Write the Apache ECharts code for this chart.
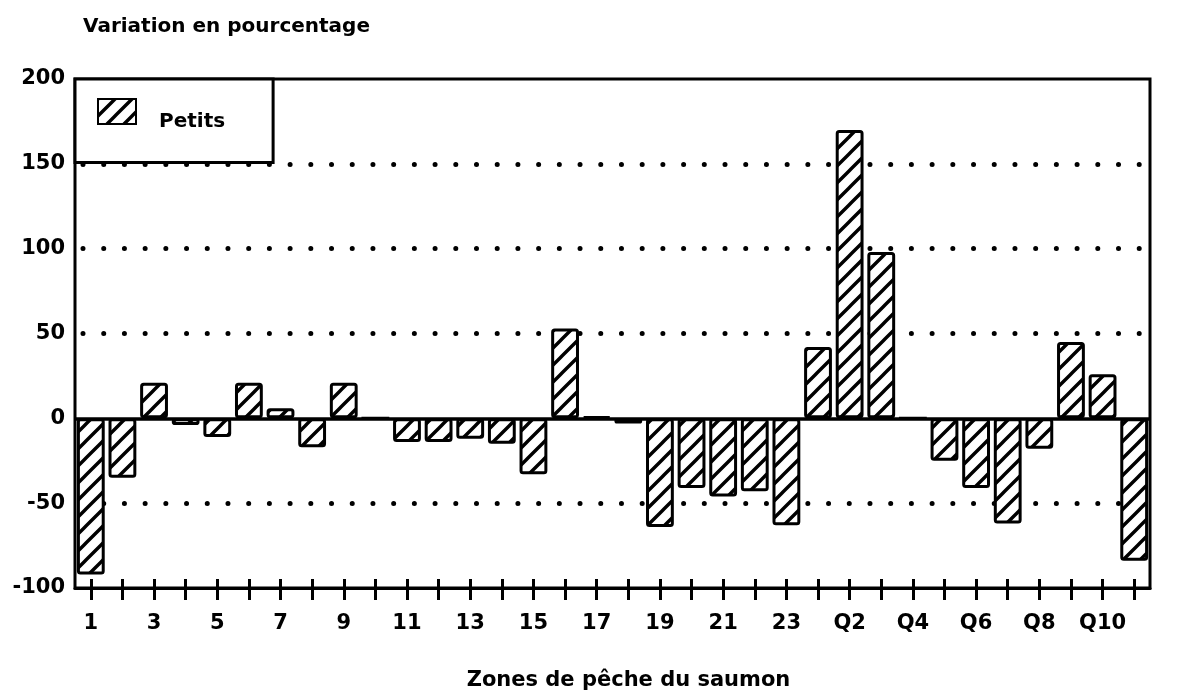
<!DOCTYPE html>
<html>
<head>
<meta charset="utf-8">
<script src="https://cdn.jsdelivr.net/npm/echarts@6/dist/echarts.min.js"></script>
<style>html,body{margin:0;padding:0;background:#fff;}#chart{width:1183px;height:694px;}</style>
</head>
<body>
<div id="chart"></div>
<script>
const categories = ['1','2','3','4','5','6','7','8','9','10','11','12','13','14','15','16','17','18','19','20','21','22','23',
  'Q1','Q2','Q3','Q4','Q5','Q6','Q7','Q8','Q9','Q10','Q11'];
const petits = [-92,-35,21,-4,-11,21,6,-17,21,0,-14,-14,-12,-15,-33,53,1,-3,-64,-41,-46,-43,-63,
  42,170,98,0,-25,-41,-62,-18,45,26,-84];
const yTicks = { min: -100, max: 200, interval: 50 };
const dottedLevels = [150, 100, 50, -50];
const seriesName = 'Petits';
const titleText = 'Variation en pourcentage';
const xName = 'Zones de pêche du saumon';

function hatch() {
  const s = 17;
  const c = document.createElement('canvas');
  c.width = s; c.height = s;
  const g = c.getContext('2d');
  g.fillStyle = '#fff'; g.fillRect(0, 0, s, s);
  g.strokeStyle = '#000'; g.lineWidth = 3.4;
  g.beginPath();
  g.moveTo(-s, 2 * s); g.lineTo(2 * s, -s);
  g.moveTo(-s, s); g.lineTo(s, -s);
  g.moveTo(0, 2 * s); g.lineTo(2 * s, 0);
  g.stroke();
  return { image: c, repeat: 'repeat' };
}

const FONT = 'DejaVu Sans';
const dotStyle = { color: '#000', width: 5, type: [0.01, 20.7], cap: 'round', dashOffset: -8 };
const markData = dottedLevels.map(v => ({ yAxis: v, lineStyle: dotStyle }))
  .concat([{ yAxis: 0, lineStyle: { color: '#000', width: 3.5, type: 'solid' } }]);

const chart = echarts.init(document.getElementById('chart'));
chart.setOption({
  backgroundColor: '#fff',
  animation: false,
  title: {
    text: titleText, left: 78, top: 12,
    textStyle: { fontFamily: FONT, fontWeight: 'bold', fontSize: 20, color: '#000' }
  },
  legend: {
    left: 75, top: 79,
    padding: [19, 48, 31, 22],
    backgroundColor: '#fff',
    borderColor: '#000', borderWidth: 3,
    itemWidth: 38, itemHeight: 25,
    icon: 'rect',
    formatter: '{a|{name}}',
    textStyle: {
      fontFamily: FONT, fontWeight: 'bold', fontSize: 20, color: '#000', padding: [0, 0, 0, 18],
      rich: { a: { fontFamily: FONT, fontWeight: 'bold', fontSize: 20, color: '#000', padding: [20, 0, 0, 0] } }
    },
    data: [seriesName]
  },
  grid: {
    left: 75, right: 33, top: 79, bottom: 106,
    outerBoundsMode: 'none', containLabel: false,
    show: true, borderColor: '#000', borderWidth: 3, backgroundColor: 'transparent'
  },
  xAxis: [{
    type: 'category', data: categories, position: 'bottom',
    name: xName, nameLocation: 'middle', nameGap: 82,
    nameTextStyle: { fontFamily: FONT, fontWeight: 'bold', fontSize: 21, color: '#000', padding: [0, 0, 0, 32] },
    axisLine: { show: true, onZero: false, lineStyle: { color: '#000', width: 3 } },
    axisTick: { show: true, alignWithLabel: true, interval: 0, length: 12, lineStyle: { color: '#000', width: 3 } },
    axisLabel: { interval: 1, margin: 25, fontFamily: FONT, fontWeight: 'bold', fontSize: 21, color: '#000' },
    splitLine: { show: false }
  }, {
    type: 'category', data: categories, position: 'bottom',
    axisLine: { show: false, onZero: false },
    axisTick: { show: true, inside: true, alignWithLabel: true, interval: 0, length: 9, lineStyle: { color: '#000', width: 3 } },
    axisLabel: { show: false },
    splitLine: { show: false }
  }],
  yAxis: {
    type: 'value', min: yTicks.min, max: yTicks.max, interval: yTicks.interval,
    axisLine: { show: false }, axisTick: { show: false },
    axisLabel: { margin: 10, fontFamily: FONT, fontWeight: 'bold', fontSize: 21, color: '#000' },
    splitLine: { show: false }
  },
  series: [{
    name: seriesName, type: 'bar', xAxisIndex: 0, data: petits, z: 3,
    barWidth: '88%',
    itemStyle: { color: hatch(), borderColor: '#000', borderWidth: 3, borderRadius: 2 },
    markLine: {
      z: 1, silent: true, symbol: 'none', label: { show: false },
      data: markData
    }
  }]
});
</script>
</body>
</html>
